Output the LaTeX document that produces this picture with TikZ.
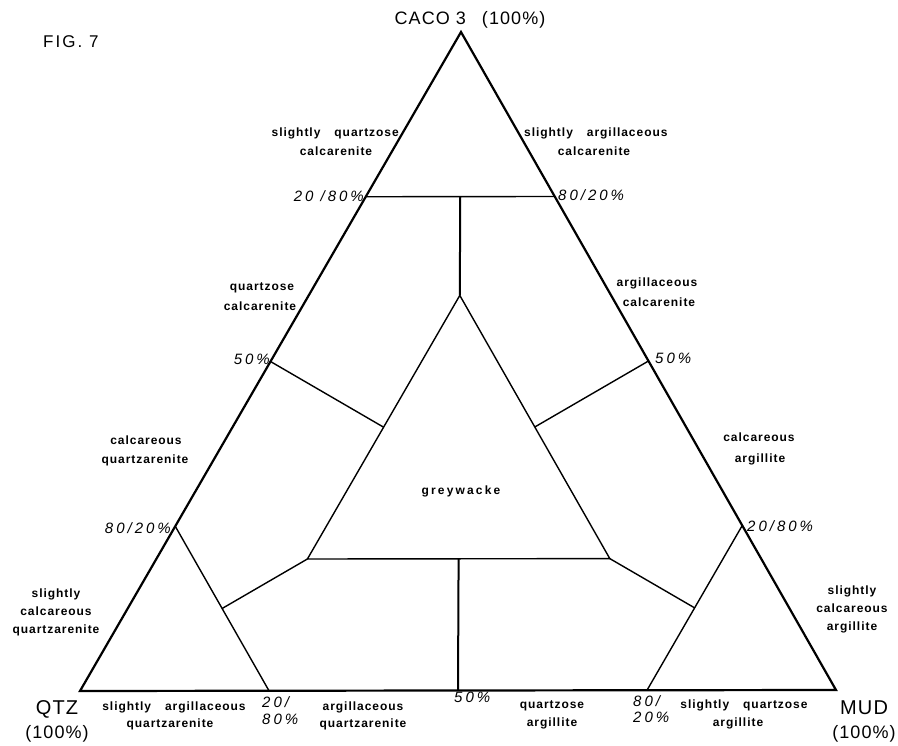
\documentclass[tikz,border=0pt]{standalone}
\usepackage{fontspec}
\setmainfont{Liberation Sans}
\newfontfamily\lblfam[LetterSpace=8,UprightFont={* Bold}]{Liberation Sans}
\newfontfamily\pctfam[LetterSpace=20]{Liberation Sans}
\newfontfamily\bigfam[LetterSpace=6]{Liberation Sans}
\newfontfamily\figfam[LetterSpace=12]{Liberation Sans}
\begin{document}
\begin{tikzpicture}[x=1pt,y=-1pt,
  edge/.style={line width=2.2pt,line join=miter},
  part/.style={line width=1.4pt},
  vpart/.style={line width=2pt},
  lbl/.style={font=\lblfam\fontsize{12}{14}\selectfont,inner sep=0,anchor=base},
  pct/.style={font=\pctfam\itshape\fontsize{15}{17}\selectfont,inner sep=0,anchor=base},
  big/.style={font=\bigfam\fontsize{18}{20}\selectfont,inner sep=0,anchor=base}]
\useasboundingbox (0,0) rectangle (898,746);
\fill[white] (0,0) rectangle (898,746);
% vertices
\coordinate (T) at (461,32);
\coordinate (L) at (80,691);
\coordinate (R) at (836,690);
% division points
\coordinate (tl)  at (barycentric cs:T=0.75,L=0.25,R=0);
\coordinate (tr)  at (barycentric cs:T=0.75,L=0,R=0.25);
\coordinate (tm)  at (barycentric cs:T=0.75,L=0.125,R=0.125);
\coordinate (iT)  at (barycentric cs:T=0.6,L=0.2,R=0.2);
\coordinate (iL)  at (barycentric cs:T=0.2,L=0.6,R=0.2);
\coordinate (iR)  at (barycentric cs:T=0.2,L=0.2,R=0.6);
\coordinate (mL)  at (barycentric cs:T=0.5,L=0.5,R=0);
\coordinate (mR)  at (barycentric cs:T=0.5,L=0,R=0.5);
\coordinate (iml) at (barycentric cs:T=0.4,L=0.4,R=0.2);
\coordinate (imr) at (barycentric cs:T=0.4,L=0.2,R=0.4);
\coordinate (lt)  at (barycentric cs:T=0.25,L=0.75,R=0);
\coordinate (lb)  at (barycentric cs:T=0,L=0.75,R=0.25);
\coordinate (lm)  at (barycentric cs:T=0.125,L=0.75,R=0.125);
\coordinate (rt)  at (barycentric cs:T=0.25,L=0,R=0.75);
\coordinate (rb)  at (barycentric cs:T=0,L=0.25,R=0.75);
\coordinate (rm)  at (barycentric cs:T=0.125,L=0.125,R=0.75);
\coordinate (bm)  at (barycentric cs:T=0,L=0.5,R=0.5);
\coordinate (ibm) at (barycentric cs:T=0.2,L=0.4,R=0.4);
% lines
\draw[edge] (T) -- (L) -- (R) -- cycle;
\draw[part] (tl) -- (tr);
\draw[vpart] (tm) -- (iT);
\draw[part] (iT) -- (iL) -- (iR) -- cycle;
\draw[part] (mL) -- (iml);
\draw[part] (mR) -- (imr);
\draw[part] (lt) -- (lb);
\draw[part] (rt) -- (rb);
\draw[part] (iL) -- (lm);
\draw[part] (iR) -- (rm);
\draw[vpart] (ibm) -- (bm);
% big labels
\node[big] (caco) at (470,25) {CACO 3\hspace{16pt}(100\%)};
\node[big,anchor=base west,font=\figfam\fontsize{17}{19}\selectfont] (fig) at (43,48) {FIG. 7};
\node[big,font=\bigfam\fontsize{20}{22}\selectfont] (qtz) at (57,714) {QTZ};
\node[big] (qtzp) at (57,738) {(100\%)};
\node[big,font=\bigfam\fontsize{20}{22}\selectfont] (mud) at (864,714) {MUD};
\node[big] (mudp) at (864,738) {(100\%)};
% percent labels
\node[pct,anchor=base east] (p1) at (364,202) {20 /80\%};
\node[pct,anchor=base west] (p2) at (558,201) {80/20\%};
\node[pct,anchor=base east] (p3) at (270,365) {50\%};
\node[pct,anchor=base west] (p4) at (655,363) {50\%};
\node[pct,anchor=base east] (p5) at (171,533) {80/20\%};
\node[pct,anchor=base west] (p6) at (747,531) {20/80\%};
\node[pct,anchor=base west] (p7a) at (262,707) {20/};
\node[pct,anchor=base west] (p7b) at (262,724) {80\%};
\node[pct,anchor=base west] (p8) at (454,702) {50\%};
\node[pct,anchor=base west] (p9a) at (633,706) {80/};
\node[pct,anchor=base west] (p9b) at (633,722) {20\%};
% field labels
\node[lbl,anchor=base east] (a1) at (399,137) {slightly\hspace{14pt}quartzose};
\node[lbl] (a2) at (336,156) {calcarenite};
\node[lbl,anchor=base west] (b1) at (524,137) {slightly\hspace{14pt}argillaceous};
\node[lbl] (b2) at (594,156) {calcarenite};
\node[lbl] (c1) at (262,291) {quartzose};
\node[lbl] (c2) at (260,311) {calcarenite};
\node[lbl] (d1) at (657,287) {argillaceous};
\node[lbl] (d2) at (659,307) {calcarenite};
\node[lbl] (e1) at (146,444) {calcareous};
\node[lbl] (e2) at (145,464) {quartzarenite};
\node[lbl] (f1) at (759,442) {calcareous};
\node[lbl] (f2) at (760,462) {argillite};
\node[lbl,font=\lblfam\addfontfeature{LetterSpace=18}\fontsize{12}{14}\selectfont] (g) at (461,494) {greywacke};
\node[lbl] (h1) at (56,597) {slightly};
\node[lbl] (h2) at (56,615) {calcareous};
\node[lbl] (h3) at (56,633) {quartzarenite};
\node[lbl] (k1) at (852,594) {slightly};
\node[lbl] (k2) at (852,612) {calcareous};
\node[lbl] (k3) at (852,630) {argillite};
\node[lbl] (m1) at (174,710) {slightly\hspace{14pt}argillaceous};
\node[lbl] (m2) at (170,727) {quartzarenite};
\node[lbl] (n1) at (363,710) {argillaceous};
\node[lbl] (n2) at (363,727) {quartzarenite};
\node[lbl] (o1) at (552,708) {quartzose};
\node[lbl] (o2) at (552,726) {argillite};
\node[lbl] (q1) at (744,708) {slightly\hspace{14pt}quartzose};
\node[lbl] (q2) at (738,726) {argillite};
\end{tikzpicture}
\end{document}
